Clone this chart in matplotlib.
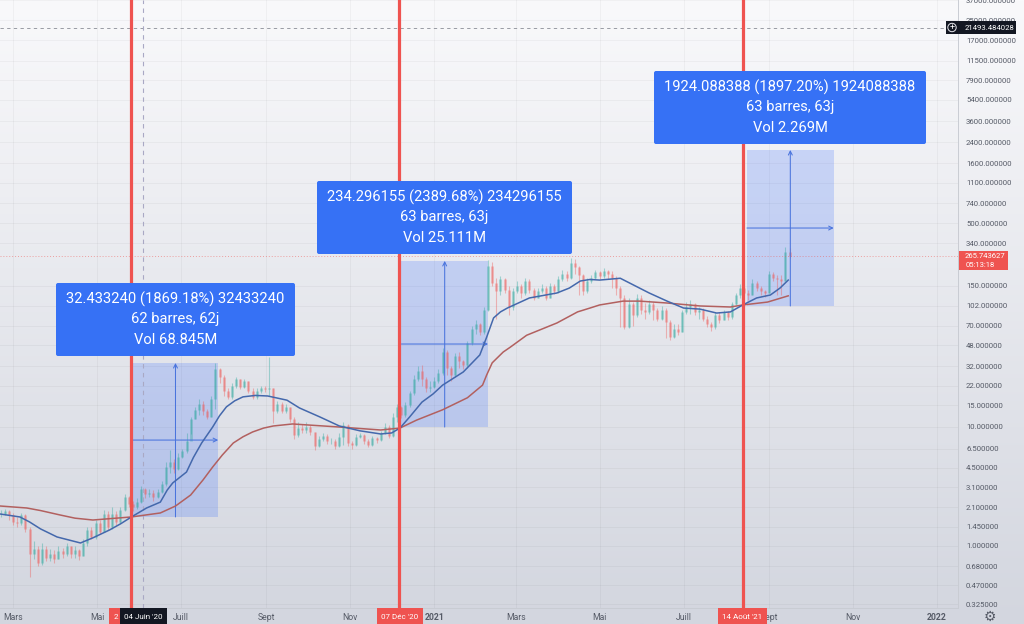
import numpy as np
import matplotlib
matplotlib.use("Agg")
import matplotlib.pyplot as plt
from matplotlib.patches import Rectangle, FancyBboxPatch, Circle
from matplotlib.transforms import Affine2D

plt.rcParams['font.family'] = ['Roboto', 'DejaVu Sans']

# ---- data (x = days since 1 March 2020) ----
first_day = -9
day_step = 3
closes = [1.85,1.95,1.8,1.6,1.55,1.8,1.4,0.85,0.95,0.72,0.95,0.8,0.85,0.78,0.9,0.85,1.0,0.85,0.92,0.82,
          1.05,1.35,1.2,1.55,1.3,1.85,1.45,1.85,1.6,2.0,2.55,2.25,2.1,2.35,3.0,2.7,2.8,2.55,2.85,3.3,
          4.6,5.0,4.4,5.6,6.2,7.5,11.5,13.8,15.5,13.5,12.0,17,30,26,20,17.5,22,25,21.5,24,
          20,17.5,20,21,20.5,21,13.5,15.5,13.5,14.5,11.5,8.5,9.8,9.3,10.0,9.0,6.9,7.8,8.3,7.5,
          7.6,6.9,8.2,10.2,7.3,7.0,8.2,8.5,7.5,7.0,8.0,7.7,8.8,10,8.4,12,14.5,12.5,15,19,
          25,29,25,21,21.5,24,28,42,31,27,39,35,33,50,65,72,62,95,220,160,
          135,170,140,100,135,150,130,165,140,120,135,145,120,150,135,170,190,175,235,215,
          185,135,165,175,195,180,200,190,175,145,120,68,105,85,120,95,90,105,95,80,
          95,75,56,65,62,90,100,105,90,95,80,72,68,85,78,90,82,105,125,145,
          130,125,160,145,135,130,190,175,170,165,290,265.74]
highs = [2.0,2.05,2.0,1.9,1.75,1.9,1.85,1.45,1.1,1.0,1.05,1.0,0.95,0.92,1.0,0.97,1.05,1.0,1.0,0.95,
         1.15,1.45,1.45,1.65,1.65,2.0,1.95,2.1,1.95,2.1,2.7,2.6,2.4,2.5,3.2,3.05,3.0,2.95,3.0,3.5,
         5.0,6.4,5.3,6.0,6.5,8.8,12,14.5,17,16.5,14,18,34,31,27,21,23,26,25,25,
         24,21,21,22,22,38,21,16.5,16,15.5,14.5,12,11,10.5,11,10.3,9.0,8.3,8.8,8.6,
         8.0,7.8,8.8,11,10.4,7.6,8.6,8.9,8.6,7.8,8.4,8.2,9.2,10.8,10.2,13,15.5,14.8,16,20,
         27,32,33,26,24,26,30,45,44,32,41,42,36,52,70,78,74,100,245,240,
         175,180,175,150,145,165,155,175,170,145,145,155,150,160,155,180,205,200,255,250,
         220,190,175,185,205,200,210,205,200,180,150,125,120,110,128,125,108,115,110,98,
         102,98,78,72,72,95,110,115,108,100,98,84,75,90,90,94,92,110,130,155,
         150,140,170,165,150,140,200,195,185,185,320,310]
lows = [1.75,1.8,1.65,1.5,1.45,1.5,1.3,0.55,0.78,0.68,0.7,0.75,0.75,0.72,0.78,0.8,0.82,0.8,0.8,0.76,
        0.82,1.0,1.15,1.15,1.25,1.3,1.36,1.4,1.5,1.55,1.95,2.1,1.95,2.05,2.3,2.5,2.55,2.4,2.5,2.75,
        3.2,4.1,4.1,4.3,5.4,6.0,8.6,11.5,12.5,12.5,11.5,12,14,23,18,17,17,21,20.5,21,
        19,17,17,19,19.5,18,10.7,13,13,13,11,7.9,8.2,8.8,8.8,8.5,6.3,6.8,7.5,7.2,
        7.1,6.5,6.7,7,6.9,6.5,6.9,8,7.2,6.8,6.9,7.3,7.5,8.6,8.0,8.2,11,11.8,12,14.5,
        18.5,24,22,19.5,19.5,21,23,27,27,24,26,31,30,31,48,60,58,60,92,150,
        80,125,130,85,95,130,120,125,130,115,118,130,115,118,128,130,165,165,170,190,
        126,126,130,160,170,170,175,170,145,125,68,66,67,70,82,88,80,88,78,76,
        78,55,53,55,58,62,88,88,86,80,76,68,63,66,74,78,78,80,103,120,
        125,115,125,135,125,122,130,165,126,126,165,255]

ma_fast_days = [-9,5,12,20,32,49,58,70,78,86,97,107,112,116,126,131,137,145,150,155,161,167,176,185,199,208,223,237,252,267,275,281,288,297,305,312,327,339,344,349,354,359,375,395,404,412,419,426,441,455,462,475,487,499,511,521,530,540,550,557,563]
ma_fast = [1.85,1.75,1.59,1.39,1.19,1.06,1.17,1.36,1.53,1.75,2.08,2.33,2.94,3.37,4.16,5.5,7.28,9.9,12.3,14.6,16.4,17.7,18.2,18.0,16.6,14.3,12.0,10.1,9.2,8.66,8.83,9.7,12.0,16.0,18.7,22.2,28.6,39.7,56,81,91,98,119,131,144,165,170,168,174,144,131,112,98,96,89,91,104,119,126,144,168]
ma_slow_days = [-9,10,20,34,45,58,86,107,118,129,138,145,152,160,167,174,182,189,203,237,267,281,293,312,330,341,344,348,356,361,373,395,410,419,426,443,455,475,499,521,530,548,563]
ma_slow = [2.16,2.08,1.98,1.82,1.71,1.65,1.75,1.89,2.16,2.67,3.57,4.58,5.77,7.28,8.2,9.0,9.7,10.1,10.5,9.9,9.35,9.7,11.3,13.8,17.4,22.2,27,34.1,42,46,58,73.5,91,98,104,112,112,108,102,100,104,110,124]

price_ticks = [37000,25000,17000,11500,7900,5400,3600,2400,1600,1100,740,500,340,150,102,70,48,32,22,15,10,6.5,4.5,3.1,2.1,1.45,1.0,0.68,0.47,0.325]
time_tick_days = [0,61,122,184,245,306,365,426,487,549,610,671]
time_tick_labels = ['Mars','Mai','Juill','Sept','Nov','2021','Mars','Mai','Juill','Sept','Nov','2022']

event_days = [85.6,280.4,530.1]
crosshair_day = 94.5
last_price = 265.743627
cross_price = 21493.484028

measure_days = [(87,149),(282,345),(533,596)]
measure_prices = [(1.75,34),(9.9,243),(102,2060)]
measure_mid = [(118,7.7),(313.5,49),(564.5,458)]
measure_texts = [("32.433240 (1869.18%) 32433240","62 barres, 62j","Vol 68.845M"),
                 ("234.296155 (2389.68%) 234296155","63 barres, 63j","Vol 25.111M"),
                 ("1924.088388 (1897.20%) 1924088388","63 barres, 63j","Vol 2.269M")]

# ---- layout ----
W, H = 1024, 624
AX_R, AX_B = 958, 608
fig = plt.figure(figsize=(W/100, H/100), dpi=100)
PX = Affine2D().scale(1/W, -1/H).translate(0, 1) + fig.transFigure

bg = fig.add_axes([0, 0, 1, 1], zorder=-5)
bg.axis('off')
grad = np.linspace(0, 1, 256)[:, None]
c0, c1 = np.array([249, 249, 251])/255, np.array([211, 214, 223])/255
bg.imshow(c0 + (c1-c0)*grad[..., None], aspect='auto')

ax = fig.add_axes([0, 1-AX_B/H, AX_R/W, AX_B/H])
ax.patch.set_alpha(0)
ax.set_yscale('log')
ax.set_xlim(-9.44, (AX_R-13)/1.377)
ax.set_ylim(10**(-62/119.5), 10**(546/119.5))
for s in ['top', 'left']:
    ax.spines[s].set_visible(False)
for s in ['right', 'bottom']:
    ax.spines[s].set_color('#c9ccd3')
    ax.spines[s].set_linewidth(0.7)

ax.yaxis.tick_right()
ax.set_yticks(price_ticks)
ax.set_yticklabels([f"{p:.6f}" for p in price_ticks])
ax.minorticks_off()
ax.tick_params(axis='y', length=0, pad=5.8, labelsize=5.6, labelcolor='#555a66')
ax.set_xticks(time_tick_days)
ax.set_xticklabels(time_tick_labels)
ax.tick_params(axis='x', length=0, pad=3.5, labelsize=6.2, labelcolor='#555a66')
for lab in ax.get_xticklabels():
    if lab.get_text().startswith('20'):
        lab.set_fontweight('bold')
ax.grid(True, color='#000000', alpha=0.035, lw=0.8)
ax.set_axisbelow(True)

# ---- measure rectangles ----
for (d0, d1), (lo, hi), (dm, pm) in zip(measure_days, measure_prices, measure_mid):
    ax.add_patch(Rectangle((d0, lo), d1-d0, hi-lo, fc='#2962ff', alpha=0.2, lw=0, zorder=1.5))
    for xy0, xy1 in [((dm, lo), (dm, hi)), ((d0, pm), (d1, pm))]:
        ax.annotate('', xy=xy1, xytext=xy0, zorder=2.6,
                    arrowprops=dict(arrowstyle='->', color='#4a74dd', lw=0.75, shrinkA=0, shrinkB=0, mutation_scale=7))

# ---- candles ----
cl = np.array(closes, float)
days = first_day + day_step*np.arange(len(cl))
op = np.r_[cl[0], cl[:-1]]
up = cl >= op
UP, DOWN = '#26a69a', '#ef5350'
colors = np.where(up, UP, DOWN)
ax.vlines(days, lows, highs, colors=colors, lw=0.8, alpha=0.38, zorder=2)
ax.vlines(days, op, cl, colors=colors, lw=1.9, alpha=0.38, zorder=2, capstyle='butt')

# ---- moving averages ----
ax.plot(ma_slow_days, ma_slow, color='#b2605f', lw=1.1, zorder=3)
ax.plot(ma_fast_days, ma_fast, color='#4468ac', lw=1.1, zorder=3.1)

# ---- reference lines ----
ax.axhline(last_price, color='#ef5350', lw=0.7, ls=(0, (1, 2)), alpha=0.5, zorder=2)
ax.axhline(cross_price, color='#8a8d96', lw=0.6, ls=(0, (4, 4)), zorder=2)
ax.axvline(crosshair_day, color='#a9a8c4', lw=0.8, ls=(0, (4, 4)), zorder=2)
for d in event_days:
    ax.axvline(d, color='#ef5350', lw=2.3, zorder=4)

# ---- labels over the measures ----
boxes = [(56, 283, 295, 356), (317, 181, 572, 254), (654, 71, 926, 144)]
for (x0, y0, x1, y1), lines in zip(boxes, measure_texts):
    fig.add_artist(FancyBboxPatch((x0+2, y0+2), x1-x0-4, y1-y0-4, boxstyle='round,pad=2,rounding_size=2',
                                  fc='#3671f5', ec='none', transform=PX, zorder=6))
    for i, t in enumerate(lines):
        fig.text((x0+x1)/2/W, 1-(y0+16+20.5*i)/H, t, color='white', fontsize=10.6,
                 ha='center', va='center', zorder=7)

# ---- price tags ----
def tag(x0, y0, x1, y1, color, texts, size=5.6, weight='normal'):
    fig.add_artist(Rectangle((x0, y0), x1-x0, y1-y0, fc=color, ec='none', transform=PX, zorder=8))
    for (tx, ty, t) in texts:
        fig.text(tx/W, 1-ty/H, t, color='white', fontsize=size, ha='center', va='center', zorder=9, fontweight=weight)

tag(946, 21, 1016, 34, '#131722', [(989, 27.5, f"{cross_price:.6f}")], size=5.6)
fig.add_artist(Circle((952, 27.5), 4.2, fc='none', ec='#e8e8ee', lw=0.7, transform=PX, zorder=9))
fig.text(952/W, 1-27.3/H, '+', color='white', fontsize=6.5, ha='center', va='center', zorder=9)
tag(959, 251, 1008, 270, '#ef5350', [(984.5, 256, f"{last_price:.6f}"), (980, 265, "05:13:18")], size=5.5)

# ---- date tags ----
tag(109, 608, 131, 624, '#ef5350', [(116, 617, "2")], size=5.8)
tag(120, 608, 167, 624, '#131722', [(143.5, 617, "04 Juin '20")], size=5.8)
tag(377, 608, 423, 624, '#ef5350', [(400, 617, "07 Déc '20")], size=5.8)
tag(718, 608, 767, 624, '#ef5350', [(742.5, 617, "14 Août '21")], size=5.8)
fig.text(990/W, 1-617/H, '\u2699', family='DejaVu Sans', color='#555a66', fontsize=10, ha='center', va='center')

fig.savefig('out.png', dpi=100)
